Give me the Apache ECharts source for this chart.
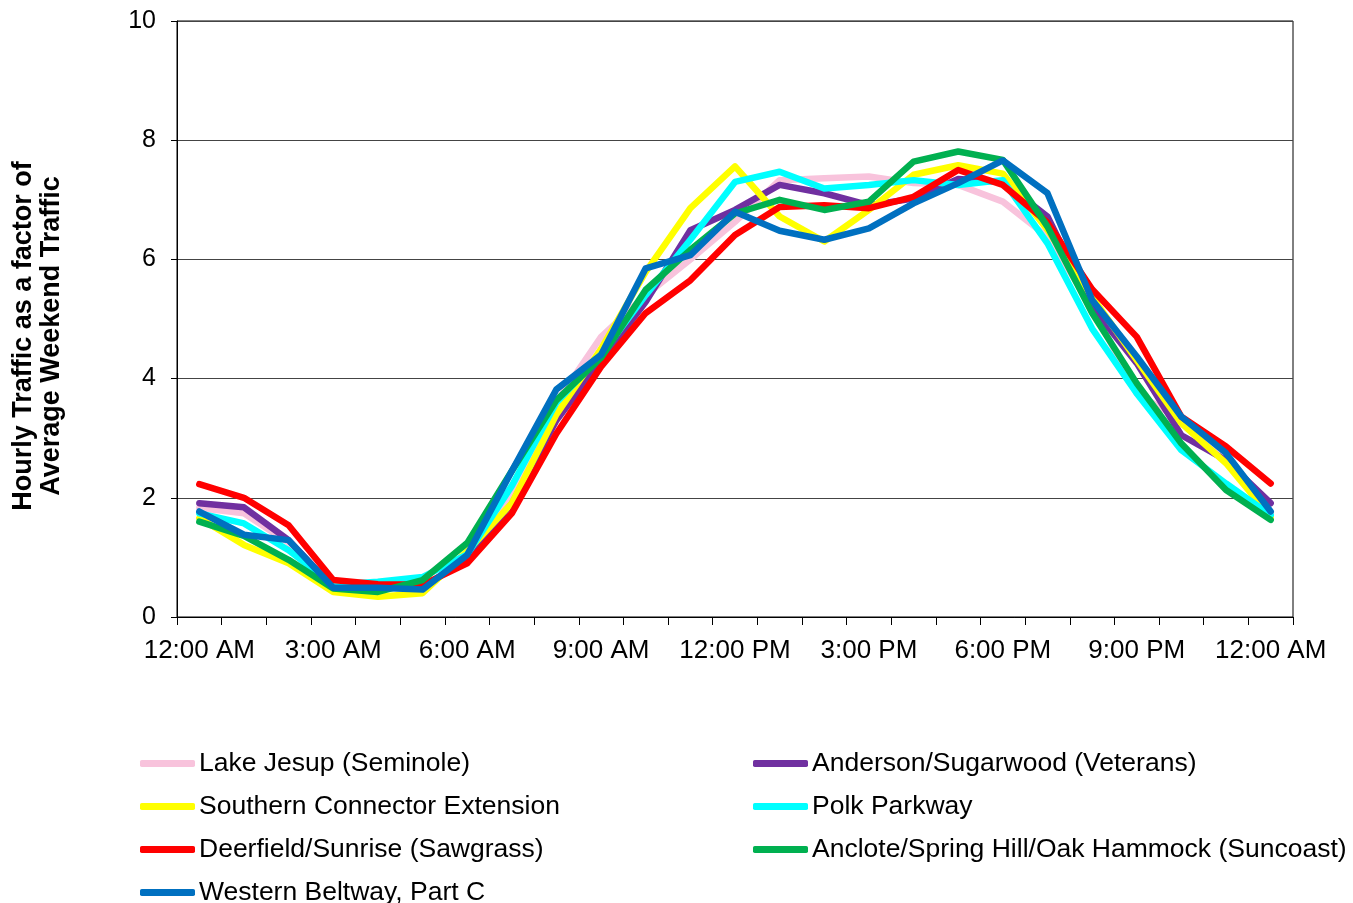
<!DOCTYPE html>
<html>
<head>
<meta charset="utf-8">
<script src="https://cdn.jsdelivr.net/npm/echarts@6/dist/echarts.min.js"></script>
<style>
  html, body { margin: 0; padding: 0; background: #fff; }
  #main { width: 1353px; height: 903px; }
</style>
</head>
<body>
<div id="main"></div>
<script>
var hours = ['12:00 AM', '1:00 AM', '2:00 AM', '3:00 AM', '4:00 AM', '5:00 AM', '6:00 AM', '7:00 AM',
    '8:00 AM', '9:00 AM', '10:00 AM', '11:00 AM', '12:00 PM', '1:00 PM', '2:00 PM', '3:00 PM',
    '4:00 PM', '5:00 PM', '6:00 PM', '7:00 PM', '8:00 PM', '9:00 PM', '10:00 PM', '11:00 PM', '12:00 AM'];

var lakeJesup = [1.83, 1.74, 1.25, 0.50, 0.50, 0.50, 1.00, 2.10, 3.60, 4.70, 5.40, 6.00, 6.63,
    7.33, 7.36, 7.39, 7.28, 7.25, 6.97, 6.38, 5.20, 3.75, 3.30, 2.70, 1.75];
var anderson = [1.91, 1.84, 1.29, 0.50, 0.50, 0.48, 1.00, 1.90, 3.30, 4.30, 5.29, 6.49, 6.83,
    7.25, 7.11, 6.91, 7.02, 7.35, 7.30, 6.72, 5.20, 4.26, 3.05, 2.63, 1.91];
var southern = [1.66, 1.21, 0.90, 0.42, 0.34, 0.40, 1.10, 1.91, 3.40, 4.50, 5.79, 6.86, 7.56,
    6.72, 6.30, 6.83, 7.42, 7.58, 7.44, 6.50, 5.37, 4.31, 3.25, 2.58, 1.68];
var polk = [1.74, 1.57, 1.12, 0.54, 0.59, 0.67, 1.05, 2.20, 3.60, 4.40, 5.40, 6.33, 7.30,
    7.47, 7.19, 7.25, 7.33, 7.25, 7.33, 6.27, 4.84, 3.75, 2.80, 2.24, 1.71];
var deerfield = [2.23, 2.00, 1.54, 0.62, 0.55, 0.54, 0.90, 1.74, 3.08, 4.20, 5.10, 5.65, 6.41,
    6.88, 6.91, 6.86, 7.05, 7.50, 7.25, 6.62, 5.50, 4.70, 3.36, 2.86, 2.24];
var anclote = [1.60, 1.36, 0.96, 0.48, 0.42, 0.62, 1.24, 2.45, 3.64, 4.35, 5.49, 6.16, 6.77,
    7.00, 6.83, 6.97, 7.64, 7.81, 7.67, 6.55, 5.10, 3.92, 2.91, 2.13, 1.63];
var western = [1.77, 1.38, 1.29, 0.49, 0.49, 0.46, 1.04, 2.45, 3.82, 4.40, 5.85, 6.07, 6.80,
    6.48, 6.33, 6.52, 6.94, 7.28, 7.66, 7.11, 5.32, 4.37, 3.36, 2.75, 1.77];

var names = ['Lake Jesup (Seminole)', 'Anderson/Sugarwood (Veterans)', 'Southern Connector Extension',
    'Polk Parkway', 'Deerfield/Sunrise (Sawgrass)', 'Anclote/Spring Hill/Oak Hammock (Suncoast)',
    'Western Beltway, Part C'];
var values = [lakeJesup, anderson, southern, polk, deerfield, anclote, western];
var colors = ['#F8C3DC', '#7030A0', '#FFFF00', '#00FFFF', '#FF0000', '#00B050', '#0070C0'];

var font = 'Liberation Sans, Arial, sans-serif';

var chart = echarts.init(document.getElementById('main'));

var series = [];
for (var i = 0; i < names.length; i++) {
    series.push({
        name: names[i],
        type: 'line',
        data: values[i],
        symbol: 'none',
        animation: false,
        lineStyle: { width: 6.5, color: colors[i], cap: 'round', join: 'round' },
        itemStyle: { color: colors[i] }
    });
}

// two legend columns, filled row by row like the original
var legendBase = {
    orient: 'vertical',
    top: 750,
    height: 160,
    padding: 0,
    itemGap: 16,
    itemWidth: 55,
    itemHeight: 7,
    icon: 'roundRect',
    selectedMode: false,
    textStyle: { fontFamily: font, fontSize: 26.5, color: '#000', lineHeight: 26, padding: [0, 0, 0, -1] }
};

chart.setOption({
    backgroundColor: '#fff',
    animation: false,
    grid: {
        left: 177, top: 21, width: 1116, height: 596,
        show: true, borderColor: '#000', borderWidth: 1
    },
    legend: [
        Object.assign({}, legendBase, { left: 140, data: [names[0], names[2], names[4], names[6]] }),
        Object.assign({}, legendBase, { left: 753, data: [names[1], names[3], names[5]] })
    ],
    xAxis: {
        type: 'category',
        data: hours,
        boundaryGap: true,
        axisLine: { lineStyle: { color: '#000', width: 1 } },
        axisTick: { show: true, interval: 0, length: 8, lineStyle: { color: '#000' } },
        axisLabel: { interval: 2, margin: 21, fontFamily: font, fontSize: 26, color: '#000' },
        splitLine: { show: false }
    },
    yAxis: {
        type: 'value',
        min: 0,
        max: 10,
        interval: 2,
        axisLine: { show: true, lineStyle: { color: '#000', width: 1 } },
        axisTick: { show: true, length: 6, lineStyle: { color: '#000' } },
        axisLabel: { margin: 21, fontFamily: font, fontSize: 25, color: '#000' },
        splitLine: { show: true, lineStyle: { color: '#444', width: 1 } }
    },
    graphic: [{
        type: 'text',
        x: 38,
        y: 336,
        rotation: Math.PI / 2,
        style: {
            text: 'Hourly Traffic as a factor of\nAverage Weekend Traffic',
            font: 'bold 27px ' + font,
            fill: '#000',
            align: 'center',
            verticalAlign: 'middle',
            lineHeight: 28
        }
    }],
    series: series
});
</script>
</body>
</html>
